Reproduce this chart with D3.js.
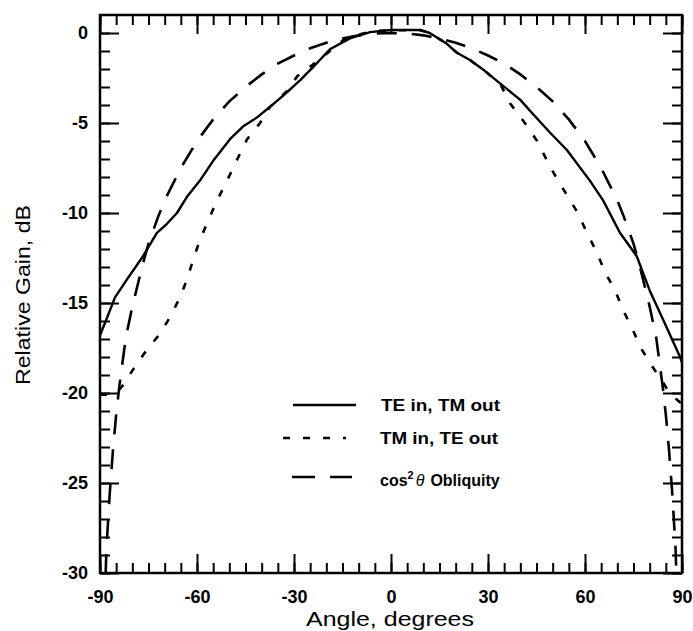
<!DOCTYPE html>
<html>
<head>
<meta charset="utf-8">
<script src="https://cdn.jsdelivr.net/npm/d3@7"></script>
<style>
  html, body { margin: 0; padding: 0; background: #fff; }
  svg { display: block; }
  text { font-family: "Liberation Sans", Arial, Helvetica, sans-serif; fill: #000; }
</style>
</head>
<body>
<svg id="chart" width="693" height="631"></svg>
<script>
// ---- data ----
const teAngles = [-90, -88, -85.4, -81.7, -76.7, -72.4, -69.3, -66.2, -63.1, -59.1, -55, -49.8, -45.8, -41.5, -37.4, -32.2, -28, -24.1, -18.9, -12.7, -6.5, 0, 9, 12, 17.3, 20.4, 24.4, 29, 33.7, 39.9, 43.9, 49, 54.4, 61.5, 65.6, 70.8, 76, 80, 84.1, 89.4, 90];
const teValues = [-16.8, -15.9, -14.7, -13.7, -12.4, -11.1, -10.6, -10.0, -9.1, -8.2, -7.1, -5.9, -5.2, -4.7, -4.1, -3.3, -2.6, -1.9, -0.9, -0.3, 0.05, 0.17, 0.17, 0.0, -0.6, -1.1, -1.5, -2.1, -2.8, -3.7, -4.5, -5.5, -6.5, -8.2, -9.3, -11.1, -12.4, -14.3, -15.9, -18.0, -18.3];

const tmAngles = [-90, -87, -84.5, -83, -79.8, -75.5, -71.4, -68.4, -65.3, -63.1, -61.2, -59.1, -56, -53.8, -50.7, -47.5, -44.5, -40.5, -37.4, -32, -29, -23, -14.8, -10, -6, 0, 9, 12, 17.3, 20.4, 24.4, 29, 33.7, 36.8, 41.4, 45.2, 48.3, 51.3, 54.4, 57.8, 60.6, 63.7, 66.2, 69.3, 71.8, 74.8, 77.6, 80.7, 83.8, 85.4, 88, 90];
const tmValues = [-20.1, -20.1, -19.9, -19.6, -18.7, -17.6, -16.7, -15.8, -14.7, -13.7, -12.6, -11.5, -10.2, -9.3, -8.2, -7.0, -5.9, -5.0, -4.1, -3.2, -2.4, -1.6, -0.4, -0.1, 0.1, 0.15, 0.15, 0.0, -0.6, -1.1, -1.5, -2.1, -2.8, -3.9, -5.0, -6.0, -7.1, -8.1, -9.0, -10.0, -11.1, -12.2, -13.3, -14.3, -15.4, -16.5, -17.6, -18.5, -19.3, -19.8, -20.3, -20.6];

const cosAngles = [-88.6, -88, -87, -86, -85, -84, -82, -80, -77, -75, -72, -70, -65, -60, -55, -50, -45, -40, -35, -30, -25, -20, -15, -10, -5, 0, 5, 10, 15, 20, 25, 30, 35, 40, 45, 50, 55, 60, 65, 70, 72, 75, 77, 80, 82, 84, 85, 86, 87, 88, 88.6];
const cosValues = [-32, -28.6, -25.6, -23.2, -21.2, -19.6, -16.9, -15.2, -13.0, -11.7, -10.2, -9.3, -7.5, -6.0, -4.8, -3.8, -3.0, -2.3, -1.7, -1.25, -0.85, -0.54, -0.3, -0.13, -0.03, 0, -0.03, -0.13, -0.3, -0.54, -0.85, -1.25, -1.7, -2.3, -3.0, -3.8, -4.8, -6.0, -7.5, -9.3, -10.2, -11.7, -13.0, -15.2, -16.9, -19.6, -21.2, -23.2, -25.6, -28.6, -32];

const xTickLabels = [-90, -60, -30, 0, 30, 60, 90];
const yTickLabels = [0, -5, -10, -15, -20, -25, -30];
const legendLabels = ["TE in, TM out", "TM in, TE out", "cos\u00B2\u03B8 Obliquity"];
const xTitle = "Angle, degrees";
const yTitle = "Relative Gain, dB";

// ---- drawing ----
const svg = d3.select("#chart");
const L = 100, R = 682, T = 15, B = 573;
const x = d3.scaleLinear().domain([-90, 90]).range([L, R]);
const y = d3.scaleLinear().domain([-30, 1]).range([B, T]);

const xMinor = d3.range(-90, 91, 5);
const yMinor = d3.range(-30, 1, 1);
const hyphenFmt = d => String(d);

function tickGroup(axisFn, scale, values, size, tx, ty) {
  const g = svg.append("g").attr("transform", `translate(${tx},${ty})`)
    .call(axisFn(scale).tickValues(values).tickSize(size).tickFormat(""));
  g.select(".domain").remove();
  g.selectAll(".tick line").attr("stroke", "#000").attr("stroke-width", 2);
  return g;
}
// minor ticks (inward)
tickGroup(d3.axisBottom, x, xMinor, -10, 0, B);
tickGroup(d3.axisTop, x, xMinor, -10, 0, T);
tickGroup(d3.axisLeft, y, yMinor, -10, L, 0);
tickGroup(d3.axisRight, y, yMinor, -10, R, 0);
// major ticks
tickGroup(d3.axisTop, x, xTickLabels, -19, 0, T);
tickGroup(d3.axisRight, y, yTickLabels, -19, R, 0);

const xa = svg.append("g").attr("transform", `translate(0,${B})`)
  .call(d3.axisBottom(x).tickValues(xTickLabels).tickSize(-19).tickPadding(17).tickFormat(hyphenFmt));
xa.select(".domain").remove();
xa.selectAll(".tick line").attr("stroke", "#000").attr("stroke-width", 2);
xa.selectAll(".tick text").attr("font-size", 18).attr("font-weight", "bold")
  .attr("font-family", "Liberation Sans, Arial, sans-serif").attr("fill", "#000");

const ya = svg.append("g").attr("transform", `translate(${L},0)`)
  .call(d3.axisLeft(y).tickValues(yTickLabels).tickSize(-19).tickPadding(12).tickFormat(hyphenFmt));
ya.select(".domain").remove();
ya.selectAll(".tick line").attr("stroke", "#000").attr("stroke-width", 2);
ya.selectAll(".tick text").attr("font-size", 18).attr("font-weight", "bold")
  .attr("font-family", "Liberation Sans, Arial, sans-serif").attr("fill", "#000");

// clip
svg.append("clipPath").attr("id", "plotclip").append("rect")
  .attr("x", L).attr("y", T).attr("width", R - L).attr("height", B - T);

const line = d3.line().x(d => x(d[0])).y(d => y(d[1]));
const plot = svg.append("g").attr("clip-path", "url(#plotclip)");

plot.append("path").datum(d3.zip(cosAngles, cosValues))
  .attr("d", line).attr("fill", "none").attr("stroke", "#000")
  .attr("stroke-width", 2.6).attr("stroke-dasharray", "20,15");
plot.append("path").datum(d3.zip(tmAngles, tmValues))
  .attr("d", line).attr("fill", "none").attr("stroke", "#000")
  .attr("stroke-width", 2.6).attr("stroke-dasharray", "7,13");
plot.append("path").datum(d3.zip(teAngles, teValues))
  .attr("d", line).attr("fill", "none").attr("stroke", "#000")
  .attr("stroke-width", 2.4).attr("stroke-linejoin", "round");

// frame
svg.append("rect").attr("x", L).attr("y", T).attr("width", R - L).attr("height", B - T)
  .attr("fill", "none").attr("stroke", "#000").attr("stroke-width", 2.5);

// legend
const lg = svg.append("g");
lg.append("line").attr("x1", 293).attr("x2", 356).attr("y1", 405).attr("y2", 405)
  .attr("stroke", "#000").attr("stroke-width", 2.4);
lg.append("line").attr("x1", 283).attr("x2", 346).attr("y1", 438).attr("y2", 438)
  .attr("stroke", "#000").attr("stroke-width", 2.6).attr("stroke-dasharray", "7,13");
lg.append("line").attr("x1", 292).attr("x2", 352).attr("y1", 477).attr("y2", 477)
  .attr("stroke", "#000").attr("stroke-width", 2.6).attr("stroke-dasharray", "23,15");

lg.append("text").attr("x", 381).attr("y", 411).attr("font-size", 16).attr("font-weight", "bold")
  .attr("textLength", 119).attr("lengthAdjust", "spacingAndGlyphs").text(legendLabels[0]);
lg.append("text").attr("x", 380).attr("y", 444).attr("font-size", 16).attr("font-weight", "bold")
  .attr("textLength", 118).attr("lengthAdjust", "spacingAndGlyphs").text(legendLabels[1]);
const t3 = lg.append("text").attr("x", 380).attr("y", 486).attr("font-size", 16).attr("font-weight", "bold");
t3.append("tspan").text("cos");
t3.append("tspan").attr("font-size", 11).attr("dy", -7).text("2");
t3.append("tspan").attr("font-style", "italic").attr("font-weight", "normal").attr("dy", 7).attr("dx", 2).text("\u03B8");
t3.append("tspan").attr("dx", 6).text("Obliquity");

// axis titles
svg.append("text").attr("x", 390).attr("y", 626).attr("text-anchor", "middle")
  .attr("font-size", 21).attr("textLength", 168).attr("lengthAdjust", "spacingAndGlyphs").text(xTitle);
svg.append("text").attr("transform", "translate(30,295) rotate(-90)").attr("text-anchor", "middle")
  .attr("font-size", 21).attr("textLength", 180).attr("lengthAdjust", "spacingAndGlyphs").text(yTitle);
</script>
</body>
</html>
